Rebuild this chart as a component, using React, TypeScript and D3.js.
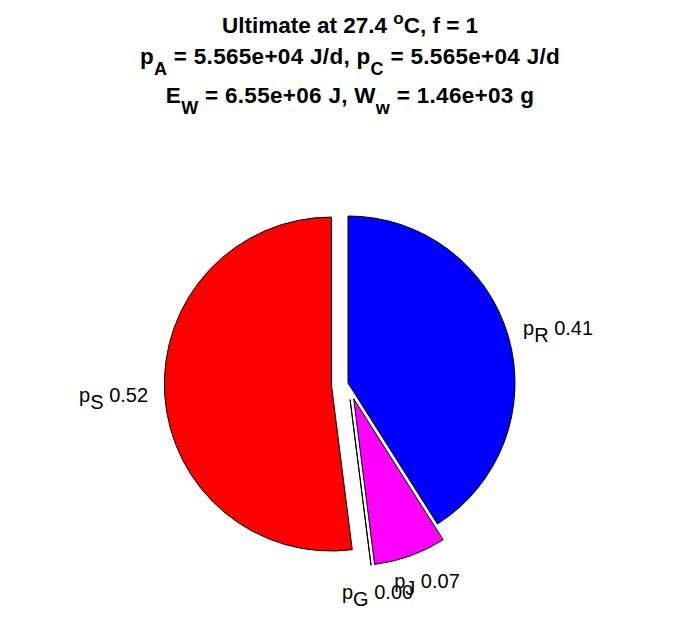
import React from "react";
import * as d3 from "d3";

const sliceNames = ["R", "J", "G", "S"];
const sliceValues = [0.41, 0.07, 0.0, 0.52];
const sliceColors = ["#0000ff", "#ff00ff", "#ffffff", "#ff0000"];
const sliceExplode = [0, 1, 1, 1];

const titleLine1 = { pre: "Ultimate at 27.4 ", sup: "o", post: "C, f = 1" };
const titleLine2 = [
  { t: "p", sub: "A", rest: " = 5.565e+04 J/d, " },
  { t: "p", sub: "C", rest: " = 5.565e+04 J/d" },
];
const titleLine3 = [
  { t: "E", sub: "W", rest: " = 6.55e+06 J, " },
  { t: "W", sub: "w", rest: " = 1.46e+03 g" },
];

const W = 696;
const H = 618;
const FONT = "'Liberation Sans', Arial, sans-serif";

function measure(text: string, size: number, weight = "normal") {
  const c = document.createElement("canvas").getContext("2d");
  if (!c) return text.length * size * 0.55;
  c.font = `${weight} ${size}px ${FONT}`;
  return c.measureText(text).width;
}

export default function App() {
  const cx = 348;
  const cy = 383;
  const r = 167;
  const labelSize = 20;

  const pie = d3
    .pie<number>()
    .sort(null)
    .value((d) => d)
    .startAngle(0)
    .endAngle(2 * Math.PI);
  const arcs = pie(sliceValues);
  const arc = d3.arc<d3.PieArcDatum<number>>().innerRadius(0).outerRadius(r);

  const rScale = d3.scaleLinear().domain([0, 1]).range([0, r]);

  const slices = arcs.map((a, i) => {
    const mid = (a.startAngle + a.endAngle) / 2;
    const dx = Math.sin(mid);
    const dy = -Math.cos(mid);
    const off = sliceExplode[i] ? rScale(0.1) : 0;
    const ox = cx + dx * off;
    const oy = cy + dy * off;
    const lr = rScale(1.1);
    const px = ox + dx * lr;
    const py = oy + dy * lr;
    const valStr = sliceValues[i].toFixed(2);
    const w =
      measure("p", labelSize) +
      measure(sliceNames[i], labelSize) +
      measure(" " + valStr, labelSize);
    const h = 22;
    const tcx = px + (dx * w) / 2;
    const tcy = py + (dy * h) / 2;
    let d = arc(a) || "";
    if (a.endAngle - a.startAngle < 1e-9) {
      const ex = Math.sin(a.startAngle) * r;
      const ey = -Math.cos(a.startAngle) * r;
      d = `M0,0L${ex},${ey}Z`;
    }
    return { d, ox, oy, tcx, tcy, w, valStr, i };
  });

  const titleProps = {
    fontFamily: FONT,
    fontWeight: "bold" as const,
    fontSize: 22.5,
    textAnchor: "middle" as const,
    fill: "#000",
  };
  const tx = 350;

  return (
    <svg
      width={W}
      height={H}
      style={{ position: "absolute", left: 0, top: 0, background: "#fff" }}
    >
      <rect width={W} height={H} fill="#fff" />
      <text x={tx} y={33} {...titleProps}>
        <tspan>{titleLine1.pre}</tspan>
        <tspan dy={-9} fontSize={17}>
          {titleLine1.sup}
        </tspan>
        <tspan dy={9}>{titleLine1.post}</tspan>
      </text>
      <text x={tx} y={64} letterSpacing={0.3} {...titleProps}>
        {titleLine2.map((p, k) => (
          <React.Fragment key={k}>
            <tspan>{p.t}</tspan>
            <tspan dy={11} fontSize={18}>
              {p.sub}
            </tspan>
            <tspan dy={-11}>{p.rest}</tspan>
          </React.Fragment>
        ))}
      </text>
      <text x={tx} y={103} letterSpacing={0.3} {...titleProps}>
        {titleLine3.map((p, k) => (
          <React.Fragment key={k}>
            <tspan>{p.t}</tspan>
            <tspan dy={11} fontSize={18}>
              {p.sub}
            </tspan>
            <tspan dy={-11}>{p.rest}</tspan>
          </React.Fragment>
        ))}
      </text>
      {slices.map((s) => (
        <path
          key={s.i}
          d={s.d}
          transform={`translate(${s.ox},${s.oy})`}
          fill={sliceColors[s.i]}
          stroke="#000"
          strokeWidth={1}
          strokeLinejoin="miter"
        />
      ))}
      {slices.map((s) => (
        <text
          key={"l" + s.i}
          x={s.tcx - s.w / 2}
          y={s.tcy + 6}
          fontFamily={FONT}
          fontSize={labelSize}
          fill="#000"
        >
          <tspan>p</tspan>
          <tspan dy={7}>{sliceNames[s.i]}</tspan>
          <tspan dy={-7}>{" " + s.valStr}</tspan>
        </text>
      ))}
    </svg>
  );
}
